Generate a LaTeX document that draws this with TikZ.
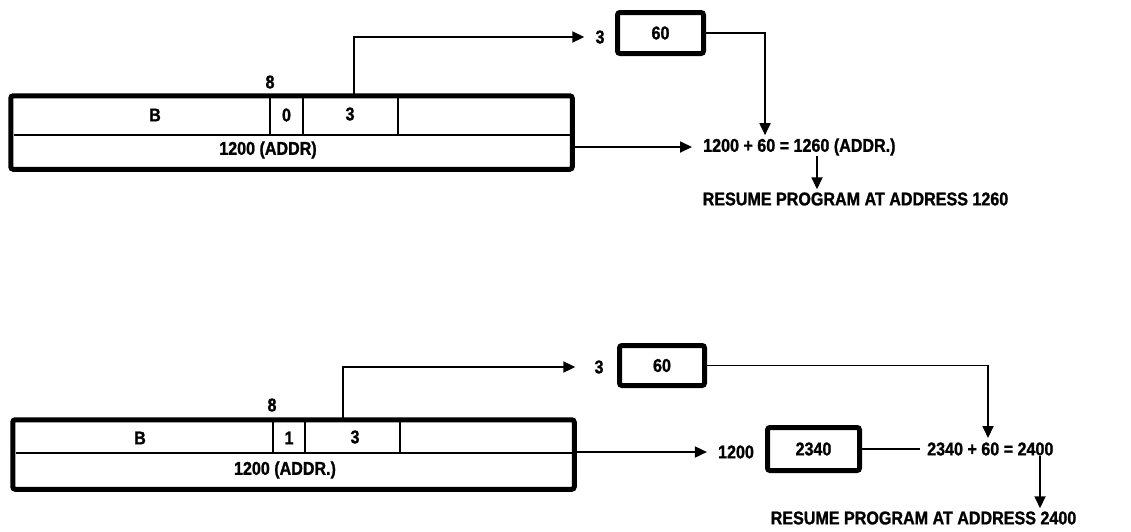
\documentclass[tikz,border=0pt]{standalone}
\usepackage{fontspec}
\setmainfont{Liberation Sans}
\newfontfamily\lblfont{Liberation Sans Bold}[FakeStretch=0.87, FakeBold=1.2]
\usetikzlibrary{arrows.meta}
\begin{document}
\begin{tikzpicture}[x=1pt,y=-1pt,
  lbl/.style={font=\fontsize{18.5}{21}\lblfont, inner sep=0pt},
  thickbox/.style={draw, line width=5pt, rounded corners=2.5pt, inner sep=0pt, font=\fontsize{18.5}{21}\lblfont},
  conn/.style={line width=1.8pt},
  arr/.style={conn, -{Triangle[length=12pt,width=11pt]}},
  thinline/.style={line width=1.5pt}]
\useasboundingbox (0,0) rectangle (1131,531);

% ---------------- top diagram ----------------
\node[thickbox, minimum width=561.5pt, minimum height=73.5pt] (reg1) at (291.5,132.5) {};
\draw[thinline] (13.5,135) -- (569.5,135);
\draw[thinline] (270,97) -- (270,135);
\draw[thinline] (303,97) -- (303,135);
\draw[thinline] (398,97) -- (398,135);
\node[lbl] (e1) at (270,82) {8};
\node[lbl] (b1) at (155,115) {B};
\node[lbl] (z1) at (286.5,115) {0};
\node[lbl] (t1) at (350,114) {3};
\node[lbl] (addr1) at (268,150) {1200 (ADDR)};

\node[lbl] (th1) at (600,37) {3};
\node[thickbox, minimum width=86pt, minimum height=41pt] (v1) at (660.5,33) {60};
\node[lbl, anchor=west] (sum1) at (703,147) {1200 + 60 = 1260 (ADDR.)};
\node[lbl] (res1) at (855.5,199) {RESUME PROGRAM AT ADDRESS 1260};

\coordinate (p1) at (354,96);
\draw[arr] (p1) |- ([xshift=-11pt]th1.west);
\coordinate (k1) at (765,33);
\draw[arr, shorten >=3pt] (v1.east) -- (k1) -- (k1 |- sum1.north);
\draw[arr] (reg1.east |- sum1.west) -- ([xshift=-11pt]sum1.west);
\coordinate (d1) at (817,0);
\draw[arr, shorten >=3pt] (d1 |- sum1.south) -- (d1 |- res1.north);

% ---------------- bottom diagram ----------------
\node[thickbox, minimum width=561.5pt, minimum height=69.5pt] (reg2) at (293.5,454.5) {};
\draw[thinline] (15.5,453) -- (571.5,453);
\draw[thinline] (273,421) -- (273,453);
\draw[thinline] (305,421) -- (305,453);
\draw[thinline] (400,421) -- (400,453);
\node[lbl] (e2) at (272,405) {8};
\node[lbl] (b2) at (140,438) {B};
\node[lbl] (z2) at (289,438) {1};
\node[lbl] (t2) at (355,437) {3};
\node[lbl] (addr2) at (285,470) {1200 (ADDR.)};

\node[lbl] (th2) at (599,367) {3};
\node[thickbox, minimum width=85pt, minimum height=40pt] (v2) at (662,365.5) {60};
\node[lbl] (a2) at (736,452) {1200};
\node[thickbox, minimum width=92pt, minimum height=43pt] (w2) at (813.5,449) {2340};
\node[lbl, anchor=west] (sum2) at (927,449) {2340 + 60 = 2400};
\node[lbl] (res2) at (923.5,518) {RESUME PROGRAM AT ADDRESS 2400};

\coordinate (p2) at (343,420);
\draw[arr] (p2) |- ([xshift=-19pt]th2.west);
\coordinate (k2) at (988,365.5);
\draw[arr] (v2.east) -- (k2) -- (988,438);
\draw[arr] (reg2.east |- a2.west) -- ([xshift=-11pt]a2.west);
\draw[conn] (w2.east) -- ([xshift=-7pt]sum2.west);
\coordinate (d2) at (1040,0);
\draw[arr, shorten >=3pt] (d2 |- sum2.south) -- (d2 |- res2.north);
\end{tikzpicture}
\end{document}
